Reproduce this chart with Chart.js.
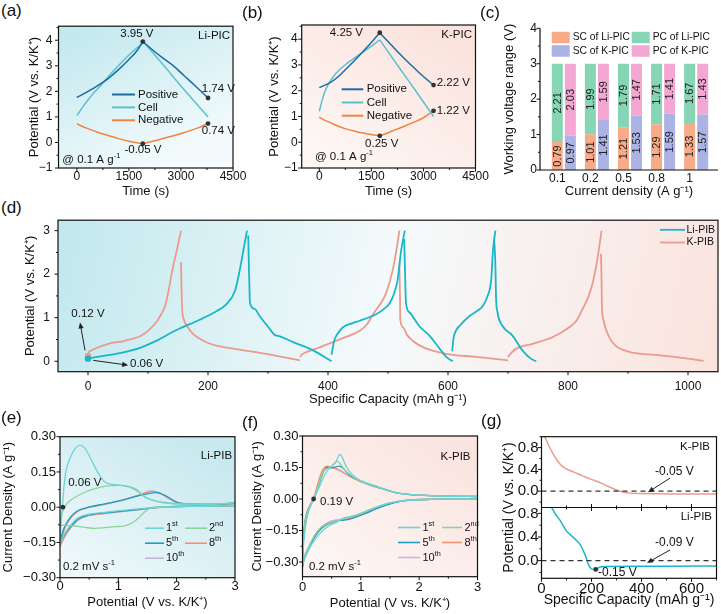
<!DOCTYPE html>
<html>
<head>
<meta charset="utf-8">
<script src="https://cdn.jsdelivr.net/npm/chart.js@4.4.1/dist/chart.umd.min.js"></script>
<style>
 html,body{margin:0;padding:0;background:#fff;}
 #wrap{position:relative;width:721px;height:614px;overflow:hidden;background:#fff;}
 #wrap canvas{position:absolute;}
 .pl{position:absolute;font-family:"Liberation Sans",Arial,sans-serif;font-size:17px;line-height:17px;color:#111;}
</style>
</head>
<body>
<div id="wrap">
 <canvas id="cA"></canvas><canvas id="cB"></canvas><canvas id="cC"></canvas><canvas id="cD"></canvas>
 <canvas id="cE"></canvas><canvas id="cF"></canvas><canvas id="cG"></canvas>
 <div class="pl" style="left:1px;top:2px">(a)</div>
 <div class="pl" style="left:242px;top:4px">(b)</div>
 <div class="pl" style="left:480px;top:4px">(c)</div>
 <div class="pl" style="left:1px;top:199px">(d)</div>
 <div class="pl" style="left:1px;top:409px">(e)</div>
 <div class="pl" style="left:242px;top:414px">(f)</div>
 <div class="pl" style="left:481px;top:412px">(g)</div>
</div>
<script>
// ====================== DATA ======================
// (a) Li-PIC  [time (s), potential (V)]; null separates charge / discharge
const picSeries = ['Positive', 'Cell', 'Negative'];
const liPicPositive = [[0,1.76],[300,1.98],[600,2.22],[900,2.5],[1200,2.85],[1500,3.25],[1750,3.62],[1900,3.95], null,
  [1900,3.95],[2200,3.6],[2500,3.28],[2800,2.98],[3100,2.6],[3400,2.23],[3780,1.74]];
const liPicCell = [[0,1.05],[200,1.45],[400,1.8],[700,2.25],[1000,2.72],[1300,3.15],[1600,3.55],[1930,3.92], null,
  [1930,3.92],[2500,3.02],[3100,2.05],[3780,1.0]];
const liPicNegative = [[0,0.72],[300,0.55],[600,0.4],[900,0.27],[1200,0.15],[1500,0.05],[1900,-0.05], null,
  [1900,-0.05],[2300,0.09],[2700,0.23],[3100,0.39],[3450,0.55],[3780,0.74]];
const liPicMarks = [[1900,3.95],[3780,1.74],[3780,0.74],[1900,-0.05]];

// (b) K-PIC
const kPicPositive = [[0,2.12],[100,2.18],[300,2.3],[550,2.55],[800,2.88],[1050,3.22],[1300,3.58],[1550,3.95],[1742,4.25], null,
  [1742,4.25],[2000,3.88],[2250,3.52],[2500,3.18],[2750,2.86],[3000,2.55],[3292,2.22]];
const kPicCell = [[0,1.2],[100,1.72],[210,2.12],[500,2.7],[800,3.06],[1070,3.32],[1400,3.63],[1742,3.97], null,
  [1742,3.97],[2300,2.9],[2800,1.95],[3292,1.0]];
const kPicNegative = [[0,0.98],[150,0.86],[300,0.77],[550,0.62],[785,0.51],[1050,0.42],[1263,0.36],[1500,0.3],[1742,0.25], null,
  [1742,0.25],[2000,0.38],[2220,0.5],[2450,0.62],[2700,0.76],[3000,0.95],[3292,1.22]];
const kPicMarks = [[1742,4.25],[3292,2.22],[3292,1.22],[1742,0.25]];

// (c) working voltage range
const currentDensity = ['0.1','0.2','0.5','0.8','1'];
const scLiPIC = [0.79,1.01,1.21,1.29,1.33];
const pcLiPIC = [2.21,1.99,1.79,1.71,1.67];
const scKPIC  = [0.97,1.41,1.53,1.59,1.57];
const pcKPIC  = [2.03,1.59,1.47,1.41,1.43];

// (d) GCD  [capacity (mAh/g), potential (V)]
const pibSeries = ['Li-PIB', 'K-PIB'];
const liPIB = [
 [0,0.06],[3,0.07],[34,0.14],[61,0.21],[89,0.32],[117,0.49],[145,0.7],[187,0.96],[214,1.15],[230,1.3],[245,1.62],[253,2.1],[259,2.55],[265,3.0], null,
 [267,2.89],[268.5,2.0],[270,1.34],[278,1.2],[286,1.04],[295,0.88],[303,0.74],[309,0.63],[312,0.6],[320,0.57],[342,0.44],[375,0.25],[406,0.0], null,
 [406,0.15],[408,0.32],[411,0.5],[414,0.59],[425,0.78],[440,0.87],[453,0.93],[480,1.08],[495,1.22],[503,1.34],[510,1.55],[516,1.87],[522,2.55],[528,3.0], null,
 [527,2.81],[528.5,2.0],[530,1.34],[536,1.12],[552,0.81],[569,0.59],[586,0.29],[597,0.1],[608,0.0], null,
 [607,0.23],[609,0.51],[613,0.7],[619,0.81],[636,1.04],[650,1.17],[658,1.27],[666,1.5],[672,1.87],[675,2.55],[679,3.0], null,
 [677,2.81],[679,2.2],[680,1.49],[682.6,1.12],[691,0.81],[707.5,0.59],[724,0.25],[738,0.06],[747,0.0]
];
const kPIB = [
 [0,0.2],[10,0.28],[34,0.4],[61,0.47],[89,0.59],[104,0.75],[115,0.92],[122,1.08],[128,1.25],[134,1.6],[140,2.05],[148,2.55],[155,3.0], null,
 [155,2.28],[156,1.6],[157,1.19],[160,0.95],[165,0.81],[175,0.63],[187,0.51],[200,0.42],[214,0.36],[242,0.29],[297,0.17],[353,0.02], null,
 [353,0.1],[357,0.16],[364,0.21],[386,0.32],[408,0.44],[430,0.56],[453,0.7],[465,0.85],[475,1.08],[490,1.38],[497,1.57],[508,2.1],[514,2.55],[519,3.0], null,
 [519,2.25],[520,1.5],[520.5,0.96],[525,0.78],[532,0.6],[541,0.47],[552,0.37],[564,0.29],[597,0.17],[647,0.1],[700,0.02], null,
 [700,0.1],[706,0.2],[714,0.29],[741,0.4],[774,0.55],[802,0.78],[815,0.95],[824,1.19],[833,1.45],[841,1.79],[849,2.35],[856,3.0], null,
 [855,2.47],[856,1.8],[856.5,1.27],[859,0.95],[863,0.74],[870,0.52],[879,0.36],[892,0.26],[907,0.2],[951,0.14],[990,0.08],[1026,0.01]
];
const liPIBStart = [0,0.06];
const kPIBStart = [0,0.12];

// (e) Li-PIB CV  [potential (V), current density (A/g)]; null separates anodic / cathodic
const cycleLabels = ['1^{st}','2^{nd}','5^{th}','8^{th}','10^{th}'];
const liCV1 = [[0,-0.15],[0.02,-0.07],[0.04,0],[0.07,0.09],[0.1,0.15],[0.17,0.207],[0.26,0.25],[0.34,0.264],[0.43,0.25],[0.54,0.2],[0.66,0.143],[0.77,0.107],[0.9,0.097],[1.05,0.093],[1.2,0.084],[1.34,0.066],[1.46,0.043],[1.63,0.027],[1.8,0.02],[2.2,0.013],[2.6,0.013],[3.0,0.02], null,
 [3.0,0.008],[2.5,0.004],[2.0,0.002],[1.6,-0.002],[1.3,-0.008],[1.0,-0.015],[0.77,-0.022],[0.49,-0.03],[0.31,-0.045],[0.17,-0.08],[0.086,-0.11],[0.0,-0.15]];
const liCV2 = [[0,-0.077],[0.01,-0.05],[0.02,-0.036],[0.08,0.0],[0.14,0.021],[0.31,0.05],[0.45,0.066],[0.6,0.079],[0.83,0.091],[1.0,0.093],[1.11,0.092],[1.29,0.079],[1.46,0.043],[1.63,0.027],[1.9,0.015],[2.5,0.012],[3.0,0.018], null,
 [3.0,0.008],[2.5,0.005],[2.0,0.003],[1.6,0.0],[1.45,-0.02],[1.35,-0.045],[1.25,-0.065],[1.11,-0.079],[0.95,-0.083],[0.77,-0.087],[0.6,-0.09],[0.43,-0.086],[0.2,-0.079],[0.0,-0.077]];
const liCV5 = [[0,-0.15],[0.04,-0.11],[0.086,-0.079],[0.2,-0.036],[0.31,-0.014],[0.49,0.0],[0.77,0.014],[1.06,0.029],[1.34,0.048],[1.51,0.058],[1.65,0.062],[1.8,0.05],[1.95,0.028],[2.1,0.015],[2.5,0.012],[3.0,0.016], null,
 [3.0,0.007],[2.5,0.005],[2.0,0.003],[1.74,0.0],[1.34,-0.01],[1.06,-0.017],[0.77,-0.024],[0.49,-0.033],[0.31,-0.05],[0.17,-0.086],[0.086,-0.114],[0.0,-0.15]];
const liCV8 = [[0,-0.16],[0.04,-0.12],[0.086,-0.085],[0.2,-0.04],[0.31,-0.016],[0.49,-0.001],[0.77,0.013],[1.06,0.03],[1.3,0.047],[1.45,0.06],[1.58,0.066],[1.72,0.058],[1.88,0.035],[2.05,0.017],[2.5,0.012],[3.0,0.015], null,
 [3.0,0.007],[2.5,0.005],[2.0,0.003],[1.74,0.0],[1.34,-0.01],[1.06,-0.018],[0.77,-0.026],[0.49,-0.035],[0.31,-0.053],[0.17,-0.09],[0.086,-0.12],[0.0,-0.16]];
const liCV10 = [[0,-0.17],[0.04,-0.125],[0.086,-0.088],[0.2,-0.042],[0.31,-0.017],[0.49,-0.002],[0.77,0.012],[1.06,0.03],[1.3,0.048],[1.45,0.062],[1.56,0.07],[1.7,0.063],[1.85,0.04],[2.02,0.018],[2.5,0.012],[3.0,0.015], null,
 [3.0,0.007],[2.5,0.005],[2.0,0.003],[1.74,0.0],[1.34,-0.011],[1.06,-0.019],[0.77,-0.027],[0.49,-0.036],[0.31,-0.055],[0.17,-0.093],[0.086,-0.125],[0.0,-0.17]];
const liCVZero = [0.05,0];

// (f) K-PIB CV
const kCV1 = [[0,-0.31],[0.01,-0.25],[0.03,-0.18],[0.07,-0.1],[0.14,-0.03],[0.19,0.0],[0.24,0.03],[0.29,0.059],[0.34,0.09],[0.38,0.114],[0.46,0.148],[0.52,0.162],[0.57,0.175],[0.61,0.2],[0.64,0.212],[0.67,0.205],[0.71,0.18],[0.76,0.15],[0.84,0.12],[0.95,0.095],[1.07,0.08],[1.3,0.058],[1.6,0.03],[2.0,0.018],[2.5,0.013],[3.0,0.012], null,
 [3.0,0.0],[2.5,-0.001],[2.2,-0.002],[1.81,-0.005],[1.6,-0.012],[1.35,-0.03],[1.1,-0.056],[0.95,-0.073],[0.85,-0.082],[0.75,-0.088],[0.65,-0.1],[0.55,-0.115],[0.45,-0.128],[0.35,-0.15],[0.25,-0.18],[0.15,-0.22],[0.06,-0.27],[0.0,-0.31]];
const kCV2 = [[0,-0.32],[0.005,-0.25],[0.02,-0.18],[0.05,-0.1],[0.13,-0.034],[0.21,0.01],[0.27,0.065],[0.33,0.115],[0.38,0.138],[0.44,0.145],[0.5,0.155],[0.55,0.172],[0.59,0.18],[0.64,0.17],[0.72,0.14],[0.82,0.115],[0.95,0.09],[1.18,0.066],[1.41,0.046],[1.64,0.028],[2.0,0.018],[2.5,0.013],[3.0,0.012], null,
 [3.0,0.0],[2.5,-0.001],[2.2,-0.002],[1.81,-0.005],[1.6,-0.013],[1.35,-0.03],[1.1,-0.058],[0.95,-0.075],[0.82,-0.085],[0.72,-0.09],[0.62,-0.1],[0.5,-0.11],[0.4,-0.12],[0.3,-0.14],[0.21,-0.172],[0.12,-0.22],[0.03,-0.28],[0.0,-0.32]];
const kCV5 = [[0,-0.32],[0.005,-0.25],[0.02,-0.18],[0.05,-0.1],[0.13,-0.034],[0.21,0.008],[0.27,0.06],[0.33,0.11],[0.38,0.14],[0.43,0.15],[0.5,0.148],[0.58,0.153],[0.63,0.157],[0.7,0.145],[0.8,0.115],[0.95,0.09],[1.18,0.065],[1.41,0.046],[1.64,0.028],[2.0,0.018],[2.5,0.013],[3.0,0.012], null,
 [3.0,0.0],[2.5,-0.001],[2.2,-0.002],[1.81,-0.006],[1.6,-0.016],[1.35,-0.038],[1.07,-0.07],[0.9,-0.088],[0.78,-0.098],[0.66,-0.102],[0.55,-0.108],[0.43,-0.12],[0.32,-0.142],[0.21,-0.18],[0.12,-0.228],[0.03,-0.285],[0.0,-0.325]];
const kCV8 = [[0,-0.32],[0.005,-0.25],[0.015,-0.19],[0.045,-0.1],[0.12,-0.034],[0.2,0.01],[0.26,0.07],[0.31,0.115],[0.36,0.145],[0.41,0.156],[0.5,0.152],[0.62,0.14],[0.78,0.113],[0.95,0.089],[1.18,0.065],[1.41,0.046],[1.64,0.028],[2.0,0.018],[2.5,0.013],[3.0,0.012], null,
 [3.0,0.0],[2.5,-0.001],[2.2,-0.002],[1.81,-0.005],[1.6,-0.014],[1.35,-0.034],[1.07,-0.066],[0.9,-0.085],[0.75,-0.095],[0.66,-0.1],[0.55,-0.105],[0.43,-0.117],[0.32,-0.138],[0.21,-0.177],[0.12,-0.225],[0.03,-0.28],[0.0,-0.32]];
const kCV10 = [[0,-0.315],[0.005,-0.25],[0.015,-0.19],[0.045,-0.1],[0.12,-0.036],[0.21,0.011],[0.26,0.066],[0.31,0.11],[0.35,0.138],[0.41,0.153],[0.49,0.15],[0.61,0.139],[0.78,0.112],[0.95,0.088],[1.18,0.064],[1.41,0.045],[1.64,0.028],[2.0,0.018],[2.5,0.013],[3.0,0.012], null,
 [3.0,0.0],[2.5,-0.001],[2.2,-0.002],[1.81,-0.005],[1.6,-0.015],[1.35,-0.036],[1.07,-0.068],[0.84,-0.088],[0.66,-0.097],[0.55,-0.101],[0.43,-0.112],[0.32,-0.133],[0.21,-0.172],[0.12,-0.22],[0.03,-0.275],[0.0,-0.315]];
const kCVZero = [0.19,0];

// (g) first discharge  [capacity (mAh/g), potential (V)]
const gKPIB = [[10,1.02],[15,0.98],[30,0.83],[47,0.68],[65,0.55],[87,0.44],[113,0.38],[145,0.32],[180,0.25],[215,0.19],[247,0.13],[275,0.07],[300,0.02],[330,-0.02],[353,-0.036],[400,-0.045],[513,-0.05],[700,-0.05]];
const gLiPIB = [[38,0.92],[55,0.79],[73,0.69],[100,0.5],[120,0.42],[140,0.34],[155,0.27],[167,0.17],[178,0.06],[187,-0.06],[200,-0.14],[217,-0.15],[233,-0.11],[260,-0.1],[400,-0.097],[513,-0.095],[700,-0.09]];
const gLiMin = [217,-0.15];

// ====================== HELPERS ======================
const FONT = '"Liberation Sans", Arial, Helvetica, sans-serif';
Chart.defaults.font.family = FONT;
Chart.defaults.color = '#111';

function segments(arr){ const out=[[]]; for(const p of arr){ if(p===null) out.push([]); else out[out.length-1].push({x:p[0],y:p[1]}); } return out.filter(s=>s.length); }
function lineSets(arr,color,width,extra){ return segments(arr).map(s=>Object.assign({data:s,borderColor:color,borderWidth:width,pointRadius:0,fill:false,cubicInterpolationMode:'monotone'},extra||{})); }

function setup(id,g){ const cv=document.getElementById(id); cv.width=g.cr-g.cl; cv.height=g.cb-g.ct; cv.style.left=g.cl+'px'; cv.style.top=g.ct+'px'; cv.style.width=cv.width+'px'; cv.style.height=cv.height+'px'; return cv; }
function baseOpts(g){ return {responsive:false,animation:false,events:[],maintainAspectRatio:false,
  layout:{padding:{left:0,top:g.T-g.ct,right:g.cr-g.R,bottom:0}},
  plugins:{legend:{display:false},tooltip:{enabled:false}}}; }

function linAxis(o){
  return Object.assign({
    type:'linear',min:o.min,max:o.max,bounds:'data',
    afterBuildTicks(s){ const t=[]; const n0=Math.ceil(o.min/o.minor-1e-6), n1=Math.floor(o.max/o.minor+1e-6);
      for(let n=n0;n<=n1;n++){ const v=+(n*o.minor).toFixed(6); const r=v/o.major; t.push({value:v,major:Math.abs(r-Math.round(r))<1e-6}); } s.ticks=t; },
    ticks:{autoSkip:false,maxRotation:0,minRotation:0,padding:o.pad,color:'#111',font:{size:o.size||12},
      callback(v,i,t){ return (t[i]&&t[i].major)?o.fmt(v):''; }},
    grid:{display:false,drawTicks:false},
    border:{display:false},
    title:o.title?{display:true,text:o.title,padding:0,color:'#111',font:{size:o.tsize||13}}:{display:false},
    afterFit:o.fit
  },o.extra||{});
}
const minus = v => (v<0?'\u2212':'')+Math.abs(v);
const fmt2 = v => (v<-1e-9?'\u2212':'')+Math.abs(v).toFixed(2);
const fmt1 = v => (v<-1e-9?'\u2212':'')+Math.abs(v).toFixed(1);

function drawRich(ctx,str,x,y,align,size,color){
  const parts=[]; const re=/\^\{([^}]*)\}/g; let last=0,m;
  while((m=re.exec(str))){ if(m.index>last) parts.push([str.slice(last,m.index),0]); parts.push([m[1],1]); last=re.lastIndex; }
  if(last<str.length) parts.push([str.slice(last),0]);
  const f=s=>s+'px '+FONT; let w=0;
  for(const [t,sup] of parts){ ctx.font=f(sup?size*0.66:size); w+=ctx.measureText(t).width; }
  let cx = align==='center'? x-w/2 : align==='right'? x-w : x;
  ctx.textBaseline='middle'; ctx.textAlign='left'; ctx.fillStyle=color||'#111';
  for(const [t,sup] of parts){ ctx.font=f(sup?size*0.66:size); ctx.fillText(t,cx,sup?y-size*0.36:y); cx+=ctx.measureText(t).width; }
}
function arrow(ctx,x1,y1,x2,y2){
  ctx.strokeStyle='#222'; ctx.fillStyle='#222'; ctx.lineWidth=1;
  const a=Math.atan2(y2-y1,x2-x1), L=6, W=2.6;
  ctx.beginPath(); ctx.moveTo(x1,y1); ctx.lineTo(x2-L*0.8*Math.cos(a),y2-L*0.8*Math.sin(a)); ctx.stroke();
  ctx.beginPath(); ctx.moveTo(x2,y2);
  ctx.lineTo(x2-L*Math.cos(a)+W*Math.sin(a),y2-L*Math.sin(a)-W*Math.cos(a));
  ctx.lineTo(x2-L*Math.cos(a)-W*Math.sin(a),y2-L*Math.sin(a)+W*Math.cos(a));
  ctx.closePath(); ctx.fill();
}
function bgPlugin(stops,dir){ return {id:'bg',beforeDraw(chart){ const {ctx,chartArea:a}=chart;
  const g=ctx.createLinearGradient(a.left+dir[0]*a.width,a.top+dir[1]*a.height,a.left+dir[2]*a.width,a.top+dir[3]*a.height);
  stops.forEach(s=>g.addColorStop(s[0],s[1])); ctx.save(); ctx.fillStyle=g; ctx.fillRect(a.left,a.top,a.width,a.height); ctx.restore(); }}; }
function framePlugin(opt){ opt=opt||{}; return {id:'frame',afterDraw(chart){
  const {ctx,chartArea:a}=chart; ctx.save(); ctx.strokeStyle='#111'; ctx.lineWidth=1.2;
  if(opt.open){ ctx.beginPath(); ctx.moveTo(a.left,a.top); ctx.lineTo(a.left,a.bottom); ctx.lineTo(a.right,a.bottom); ctx.stroke(); }
  else ctx.strokeRect(a.left,a.top,a.width,a.height);
  let midY=null; if(opt.mid){ midY=chart.scales[opt.mid].bottom; ctx.beginPath(); ctx.moveTo(a.left,midY); ctx.lineTo(a.right,midY); ctx.stroke(); }
  ctx.lineWidth=1;
  for(const s of Object.values(chart.scales)){
    if(s.axis==='x' && opt.noX) continue;
    for(const t of s.ticks){ const p=s.getPixelForValue(t.value); const L=t.major?3.5:2;
      ctx.beginPath();
      if(s.axis==='x'){ if(p<a.left-0.5||p>a.right+0.5) continue; ctx.moveTo(p,a.bottom); ctx.lineTo(p,a.bottom+L);
        if(midY!==null){ ctx.moveTo(p,midY-L); ctx.lineTo(p,midY+L); } }
      else { ctx.moveTo(a.left,p); ctx.lineTo(a.left-L,p); }
      ctx.stroke(); }
  }
  ctx.restore(); }}; }
function annoPlugin(items){ return {id:'anno',afterDatasetsDraw(chart){
  const ctx=chart.ctx; const a=chart.chartArea; ctx.save();
  for(const it of items){
    const xs=chart.scales[it.xa||'x'], ys=chart.scales[it.ya||'y'];
    const X=v=>xs.getPixelForValue(v), Y=v=>ys.getPixelForValue(v);
    if(it.hline!==undefined){ ctx.save(); ctx.strokeStyle='#333'; ctx.lineWidth=1.2; ctx.setLineDash([5,4]); ctx.beginPath(); ctx.moveTo(a.left,Y(it.hline)); ctx.lineTo(a.right,Y(it.hline)); ctx.stroke(); ctx.restore(); }
    else if(it.dot){ ctx.fillStyle=it.color||'#333'; ctx.beginPath(); ctx.arc(X(it.dot[0]),Y(it.dot[1]),it.r||2.4,0,Math.PI*2); ctx.fill(); }
    else if(it.arrow){ arrow(ctx,X(it.arrow[0]),Y(it.arrow[1]),X(it.arrow[2]),Y(it.arrow[3])); }
    else if(it.text){ drawRich(ctx,it.text,X(it.at[0]),Y(it.at[1]),it.align||'left',it.size||11.5,it.color); }
  }
  ctx.restore(); }}; }
function legendPlugin(entries,o){ return {id:'leg',afterDatasetsDraw(chart){
  const {ctx,chartArea:a}=chart; ctx.save();
  for(const e of entries){ const x=a.left+e.dx, y=a.top+e.dy;
    if(o.box){ ctx.fillStyle=e.color; ctx.fillRect(x,y-o.h/2,o.w,o.h); drawRich(ctx,e.text,x+o.w+o.gap,y,'left',o.size); }
    else { ctx.strokeStyle=e.color; ctx.lineWidth=o.lw; ctx.beginPath(); ctx.moveTo(x,y); ctx.lineTo(x+e.len,y); ctx.stroke(); drawRich(ctx,e.text,x+e.len+o.gap,y,'left',o.size); }
  }
  ctx.restore(); }}; }

// ====================== COLOURS ======================
const C_POS='#1d6aa4', C_CELL='#5cc0ce', C_NEG='#f0843f';
const C_LI='#19b6c7', C_K='#eb9b8e';
const C_SCLI='#f7ab88', C_PCLI='#86d5b5', C_SCK='#aab3e3', C_PCK='#f4a7d3';
const CV_COL=['#6ad4d9','#8fd39b','#1e9dc5','#f2946a','#c8b5dc'];
const BG_CYAN=[[0,'#c3e9ef'],[1,'#f5fbfc']], BG_PINK=[[0,'#fbe2dc'],[1,'#fdf6f4']];

const Y_POT='Potential (V vs. K/K\u207A)';

// ====================== (a) ======================
(function(){
  const g={L:58.5,T:25,R:233,B:168,cl:27,ct:13,cr:255,cb:199};
  const cv=setup('cA',g); const o=baseOpts(g);
  o.scales={
    x:linAxis({min:-530,max:4500,major:1500,minor:750,fmt:String,pad:1,title:'Time (s)',fit:s=>{s.height=g.cb-g.B;}}),
    y:linAxis({min:-1,max:4.55,major:1,minor:0.5,fmt:minus,pad:6,title:Y_POT,fit:s=>{s.width=g.L-g.cl;}})
  };
  const ds=[].concat(lineSets(liPicPositive,C_POS,1.5),lineSets(liPicCell,C_CELL,1.5),lineSets(liPicNegative,C_NEG,1.5));
  const cols=[C_POS,C_CELL,C_NEG];
  new Chart(cv,{type:'line',data:{datasets:ds},options:o,plugins:[
    bgPlugin(BG_CYAN,[0.2,0,0.6,1]),
    annoPlugin([].concat(liPicMarks.map(p=>({dot:p})),[
      {text:'3.95 V',at:[1730,4.25],align:'center'},
      {text:'1.74 V',at:[3600,2.1]},
      {text:'0.74 V',at:[3600,0.44]},
      {text:'-0.05 V',at:[1905,-0.3],align:'center'},
      {text:'Li-PIC',at:[4415,4.16],align:'right'},
      {text:'@ 0.1 A g^{-1}',at:[-420,-0.68]}
    ])),
    legendPlugin(picSeries.map((t,i)=>({text:t,color:cols[i],dx:53.5,len:23,dy:68.3+i*12.9})),{lw:2,gap:3,size:11.5}),
    framePlugin()
  ]});
})();

// ====================== (b) ======================
(function(){
  const g={L:301.7,T:25,R:475.5,B:168,cl:267,ct:13,cr:497,cb:199};
  const cv=setup('cB',g); const o=baseOpts(g);
  o.scales={
    x:linAxis({min:-507,max:4500,major:1500,minor:750,fmt:String,pad:1,title:'Time (s)',fit:s=>{s.height=g.cb-g.B;}}),
    y:linAxis({min:-1,max:4.55,major:1,minor:0.5,fmt:minus,pad:4,title:Y_POT,fit:s=>{s.width=g.L-g.cl;}})
  };
  const ds=[].concat(lineSets(kPicPositive,C_POS,1.5),lineSets(kPicCell,C_CELL,1.5),lineSets(kPicNegative,C_NEG,1.5));
  const cols=[C_POS,C_CELL,C_NEG];
  new Chart(cv,{type:'line',data:{datasets:ds},options:o,plugins:[
    bgPlugin(BG_PINK,[0.8,0,0.3,1]),
    annoPlugin([].concat(kPicMarks.map(p=>({dot:p})),[
      {text:'4.25 V',at:[1260,4.23],align:'right'},
      {text:'2.22 V',at:[3383,2.29]},
      {text:'1.22 V',at:[3383,1.21]},
      {text:'0.25 V',at:[1798,-0.07],align:'center'},
      {text:'K-PIC',at:[4400,4.16],align:'right'},
      {text:'@ 0.1 A g^{-1}',at:[-125,-0.56]}
    ])),
    legendPlugin(picSeries.map((t,i)=>({text:t,color:cols[i],dx:40,len:21.6,dy:64.3+i*13.2})),{lw:2,gap:3.4,size:11.5}),
    framePlugin()
  ]});
})();

// ====================== (c) ======================
(function(){
  const g={L:540,T:28.3,R:718,B:170,cl:502,ct:16,cr:721,cb:199};
  const cv=setup('cC',g); const o=baseOpts(g);
  const pts=arr=>arr.map((v,i)=>({x:i,y:v}));
  o.scales={
    x:{type:'linear',min:-0.72,max:4.66,offset:false,stacked:true,bounds:'data',
       afterBuildTicks(s){ s.ticks=currentDensity.map((_,i)=>({value:i,major:true})); },
       ticks:{autoSkip:false,maxRotation:0,padding:1,labelOffset:-6.5,font:{size:12},color:'#111',callback:v=>currentDensity[v]!==undefined?currentDensity[v]:''},
       grid:{display:false,drawTicks:false},border:{display:false},
       title:{display:true,text:'Current density (A g\u207B\u00B9)',padding:0,font:{size:13},color:'#111'},
       afterFit:s=>{s.height=g.cb-g.B;}},
    y:Object.assign(linAxis({min:0,max:4,major:1,minor:0.5,fmt:String,pad:3,title:'Working voltage range (V)',fit:s=>{s.width=g.L-g.cl;}}),{stacked:true})
  };
  o.datasets={bar:{categoryPercentage:0.79,barPercentage:0.84}};
  const ds=[
    {label:'SC of Li-PIC',data:pts(scLiPIC),backgroundColor:C_SCLI,stack:'Li'},
    {label:'PC of Li-PIC',data:pts(pcLiPIC),backgroundColor:C_PCLI,stack:'Li'},
    {label:'SC of K-PIC',data:pts(scKPIC),backgroundColor:C_SCK,stack:'K'},
    {label:'PC of K-PIC',data:pts(pcKPIC),backgroundColor:C_PCK,stack:'K'}
  ];
  const barLabels={id:'barLabels',afterDatasetsDraw(chart){
    const ctx=chart.ctx; ctx.save();
    chart.data.datasets.forEach((d,di)=>{ const meta=chart.getDatasetMeta(di);
      meta.data.forEach((el,i)=>{ const v=d.data[i].y; const cy=(el.y+el.base)/2;
        ctx.save(); ctx.translate(el.x,cy); ctx.rotate(-Math.PI/2); ctx.textAlign='center'; ctx.textBaseline='middle';
        ctx.font='11px '+FONT; ctx.fillStyle='#222'; ctx.fillText(v.toFixed(2),0,0.5); ctx.restore(); }); });
    ctx.restore(); }};
  const legPos=[[11.7,9.2],[91.7,9.2],[11.7,22.7],[91.7,22.7]];
  new Chart(cv,{type:'bar',data:{datasets:ds},options:o,plugins:[
    barLabels,
    legendPlugin(ds.map((d,i)=>({text:d.label,color:d.backgroundColor,dx:legPos[i][0],dy:legPos[i][1]})),{box:true,w:18,h:11.5,gap:3,size:10.3}),
    framePlugin({open:true,noX:true})
  ]});
})();

// ====================== (d) ======================
(function(){
  const g={L:58,T:217.7,R:718,B:371.7,cl:23,ct:205,cr:721,cb:407};
  const cv=setup('cD',g); const o=baseOpts(g);
  o.scales={
    x:linAxis({min:-50,max:1050,major:200,minor:100,fmt:String,pad:8,title:'Specific Capacity (mAh g\u207B\u00B9)',fit:s=>{s.height=g.cb-g.B;}}),
    y:linAxis({min:-0.24,max:3.24,major:1,minor:0.5,fmt:String,pad:8,title:Y_POT,fit:s=>{s.width=g.L-g.cl;}})
  };
  const ds=[].concat(lineSets(liPIB,C_LI,1.8),lineSets(kPIB,C_K,1.8));
  new Chart(cv,{type:'line',data:{datasets:ds},options:o,plugins:[
    bgPlugin([[0,'#c0e8ee'],[0.5,'#f5fafb'],[1,'#fbe3dd']],[0,0,1,1]),
    annoPlugin([
      {dot:kPIBStart,color:C_K,r:3.2},{dot:liPIBStart,color:C_LI,r:3.2},
      {arrow:[-5,0.25,-13.3,0.89]},{text:'0.12 V',at:[-27.8,1.09]},
      {arrow:[8.8,0.02,67,-0.09]},{text:'0.06 V',at:[70,-0.05]}
    ]),
    legendPlugin(pibSeries.map((t,i)=>({text:t,color:[C_LI,C_K][i],dx:602,len:25,dy:9.6+i*12.7})),{lw:1.8,gap:1.5,size:10.5}),
    framePlugin()
  ]});
})();

// ====================== (e) ======================
function cvLegend(col1,col2,len1,len2){
  const pos=[[col1,0,len1],[col2,0,len2],[col1,1,len1],[col2,1,len2],[col1,2,len1]];
  return cycleLabels.map((t,i)=>({text:t,color:CV_COL[i],dx:pos[i][0],len:pos[i][2],dy:91.5+pos[i][1]*15}));
}
(function(){
  const g={L:60,T:436.7,R:235,B:577.7,cl:1,ct:424,cr:250,cb:610};
  const cv=setup('cE',g); const o=baseOpts(g);
  o.scales={
    x:linAxis({min:0,max:3,major:1,minor:0.5,fmt:String,pad:1,size:13,title:Y_POT,fit:s=>{s.height=g.cb-g.B;}}),
    y:linAxis({min:-0.3,max:0.3,major:0.15,minor:0.075,fmt:fmt2,pad:4,size:13,title:'Current Density (A g\u207B\u00B9)',fit:s=>{s.width=g.L-g.cl;}})
  };
  const ds=[].concat(...[liCV1,liCV2,liCV5,liCV8,liCV10].map((c,i)=>lineSets(c,CV_COL[i],1.3)));
  new Chart(cv,{type:'line',data:{datasets:ds},options:o,plugins:[
    bgPlugin([[0,'#c8e9ef'],[1,'#eef8fa']],[0.7,0,0.2,1]),
    annoPlugin([
      {dot:liCVZero},
      {text:'0.06 V',at:[0.14,0.103]},
      {text:'Li-PIB',at:[2.95,0.22],align:'right'},
      {text:'0.2 mV s^{-1}',at:[0.05,-0.255]}
    ]),
    legendPlugin(cvLegend(85,125,19,22),{lw:1.6,gap:2,size:11}),
    framePlugin()
  ]});
})();

// ====================== (f) ======================
(function(){
  const g={L:302.5,T:436,R:477.5,B:576.7,cl:250,ct:424,cr:501,cb:611};
  const cv=setup('cF',g); const o=baseOpts(g);
  o.scales={
    x:linAxis({min:0,max:3,major:1,minor:0.5,fmt:String,pad:3,size:13,title:Y_POT,fit:s=>{s.height=g.cb-g.B;}}),
    y:linAxis({min:-0.37,max:0.3,major:0.15,minor:0.075,fmt:fmt2,pad:4,size:13,title:'Current Density (A g\u207B\u00B9)',fit:s=>{s.width=g.L-g.cl;}})
  };
  const ds=[].concat(...[kCV1,kCV2,kCV5,kCV8,kCV10].map((c,i)=>lineSets(c,CV_COL[i],1.3)));
  new Chart(cv,{type:'line',data:{datasets:ds},options:o,plugins:[
    bgPlugin([[0,'#fae4df'],[1,'#fdf6f4']],[0.8,0,0.2,1]),
    annoPlugin([
      {dot:kCVZero},
      {text:'0.19 V',at:[0.3,-0.014]},
      {text:'K-PIB',at:[2.88,0.2],align:'right'},
      {text:'0.2 mV s^{-1}',at:[0.11,-0.324]}
    ]),
    legendPlugin(cvLegend(95.5,139.5,22,20),{lw:1.6,gap:2.5,size:11}),
    framePlugin()
  ]});
})();

// ====================== (g) ======================
(function(){
  const g={L:541.5,T:436.7,R:716.5,B:578.3,cl:501,ct:424,cr:721,cb:609};
  const cv=setup('cG',g); const o=baseOpts(g);
  const yfit=s=>{s.width=g.L-g.cl;};
  o.scales={
    x:linAxis({min:0,max:700,major:200,minor:100,fmt:String,pad:1.5,size:15,tsize:14,title:'Specific Capacity (mAh g\u207B\u00B9)',fit:s=>{s.height=g.cb-g.B;}}),
    yL:linAxis({min:-0.3,max:0.9,major:0.4,minor:0.2,fmt:fmt1,pad:3,size:15,fit:yfit,extra:{position:'left',stack:'g',stackWeight:1}}),
    yK:linAxis({min:-0.3,max:1.0,major:0.4,minor:0.2,fmt:fmt1,pad:3,size:15,fit:yfit,extra:{position:'left',stack:'g',stackWeight:1}})
  };
  const ds=[].concat(lineSets(gKPIB,C_K,1.5,{yAxisID:'yK'}),lineSets(gLiPIB,C_LI,1.5,{yAxisID:'yL'}));
  const yTitle={id:'gTitle',afterDraw(chart){ const ctx=chart.ctx,a=chart.chartArea; ctx.save(); ctx.translate(8.5,(a.top+a.bottom)/2); ctx.rotate(-Math.PI/2);
    ctx.font='14px '+FONT; ctx.fillStyle='#111'; ctx.textAlign='center'; ctx.textBaseline='middle'; ctx.fillText(Y_POT,0,0); ctx.restore(); }};
  new Chart(cv,{type:'line',data:{datasets:ds},options:o,plugins:[
    annoPlugin([
      {hline:0,ya:'yK'},{hline:0,ya:'yL'},
      {text:'K-PIB',at:[674,0.81],align:'right',ya:'yK'},
      {text:'Li-PIB',at:[682,0.75],align:'right',ya:'yL'},
      {text:'-0.05 V',at:[454,0.35],ya:'yK',size:12},
      {arrow:[514,0.24,426,-0.02],ya:'yK'},
      {text:'-0.09 V',at:[454,0.30],ya:'yL',size:12},
      {arrow:[514,0.18,422,-0.04],ya:'yL'},
      {dot:gLiMin,ya:'yL'},
      {text:'-0.15 V',at:[226,-0.21],ya:'yL',size:12}
    ]),
    framePlugin({mid:'yK'}),
    yTitle
  ]});
})();
</script>
</body>
</html>
